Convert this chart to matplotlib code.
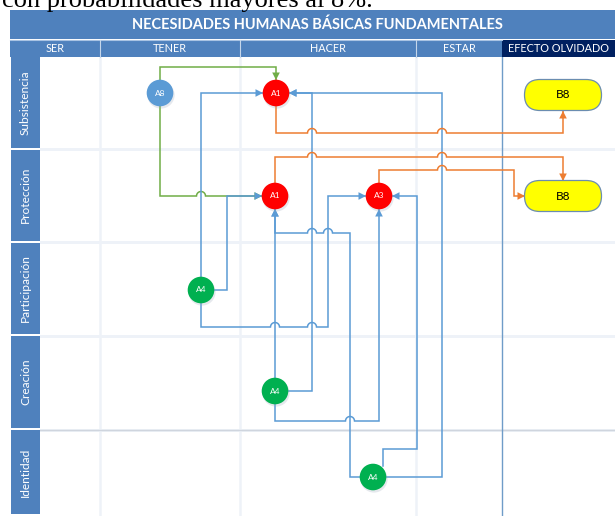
import numpy as np
import matplotlib
matplotlib.use('Agg')
import matplotlib.pyplot as plt
from matplotlib.patches import Rectangle, Circle, FancyBboxPatch, Polygon

plt.rcParams['font.family'] = ['Lato', 'DejaVu Sans']

W, H = 615, 516
BLUE = '#4f81bd'
NAVY = '#002060'
LINE_BLUE = '#5b9bd5'
ORANGE = '#ed7d31'
GREEN = '#70ad47'

# table layout
columns = ['SER', 'TENER', 'HACER', 'ESTAR', 'EFECTO OLVIDADO']
col_edges = [10, 100, 240, 416, 502, 615]
rows = ['Subsistencia', 'Protección', 'Participación', 'Creación', 'Identidad']
row_edges = [57, 149.5, 242.5, 336, 430, 516]

# nodes
node_labels = ['A8', 'A1', 'A1', 'A3', 'A4', 'A4', 'A4']
node_x = [160, 276, 275, 379, 201, 275, 373]
node_y = [93, 93, 196, 196, 290, 391, 477]
node_colors = ['#5b9bd5', '#ff0000', '#ff0000', '#ff0000', '#00b050', '#00b050', '#00b050']
effect_labels = ['B8', 'B8']
effect_x = [563, 563]
effect_y = [95, 196]

# connectors (waypoints, arrow at the end)
green_links = [
    [(160, 80), (160, 67), (276, 67), (276, 80)],
    [(160, 106), (160, 196), (262, 196)],
]
blue_links = [
    [(201, 277), (201, 93), (263, 93)],
    [(214, 290), (227, 290), (227, 196), (262, 196)],
    [(201, 303), (201, 327), (328, 327), (328, 196), (366, 196)],
    [(288, 391), (312, 391), (312, 93), (289, 93)],
    [(386, 477), (442, 477), (442, 93), (289, 93)],
    [(275, 378), (275, 209)],
    [(360, 477), (350, 477), (350, 233), (275, 233), (275, 209)],
    [(275, 404), (275, 421), (379, 421), (379, 209)],
    [(383, 466), (383, 449), (417, 449), (417, 196), (392, 196)],
]
orange_links = [
    [(276, 106), (276, 133), (563, 133), (563, 111)],
    [(275, 183), (275, 157), (563, 157), (563, 181)],
    [(379, 183), (379, 170), (514, 170), (514, 196), (525, 196)],
]

fig = plt.figure(figsize=(6.15, 5.16), dpi=100)
ax = fig.add_axes([0, 0, 1, 1])
ax.set_xlim(0, W)
ax.set_ylim(H, 0)
ax.axis('off')

# cut-off line of text above the chart
ax.text(2, 6.5, 'con probabilidades mayores al 8%.', family='Liberation Serif',
        fontsize=19, va='baseline', ha='left', color='black')

# title band and header row
ax.add_patch(Rectangle((10, 10), W - 10, 29, color=BLUE, lw=0))
ax.text((10 + W) / 2 + 5, 24.5, 'NECESIDADES HUMANAS BÁSICAS FUNDAMENTALES',
        color='white', fontsize=10.5, fontweight='bold', ha='center', va='center')
ax.add_patch(Rectangle((10, 40), W - 10, 16.5, color=BLUE, lw=0))
ax.add_patch(Rectangle((col_edges[4], 40), W - col_edges[4], 16.5, color=NAVY, lw=0))
ax.plot([10, col_edges[4]], [39.5, 39.5], color='#a9c3e3', lw=0.8)
for x in col_edges[1:4]:
    ax.plot([x, x], [40, 56.5], color='#c5d6ea', lw=0.8)
for i, name in enumerate(columns):
    ax.text((col_edges[i] + col_edges[i + 1]) / 2, 48.5, name, color='white',
            fontsize=7.8, ha='center', va='center')

# body grid
for y in row_edges[1:-1]:
    ax.add_patch(Rectangle((40, y - 1.5), W - 40, 3, color='#eef2f8', lw=0, zorder=0))
ax.plot([40, W], [row_edges[4] - 0.5, row_edges[4] - 0.5], color='#cfd5de', lw=1, zorder=0.5)
for x in col_edges[1:4]:
    ax.plot([x, x], [57, H], color='#eef2f8', lw=1.8, zorder=0)
ax.plot([col_edges[4], col_edges[4]], [56.5, H], color='#6f9cc8', lw=1, zorder=0.6)

# row labels
for i, name in enumerate(rows):
    y0, y1 = row_edges[i], row_edges[i + 1]
    ax.add_patch(Rectangle((11, y0), 29, y1 - y0 - 2, color=BLUE, lw=0))
    ax.text(25.5, (y0 + y1) / 2 - 1, name, color='white', fontsize=8.6,
            rotation=90, ha='center', va='center')

# connectors with line hops
all_links = [(GREEN, l) for l in green_links] + [(LINE_BLUE, l) for l in blue_links] + \
            [(ORANGE, l) for l in orange_links]
verticals = []
for _, pts in all_links:
    for (x0, y0), (x1, y1) in zip(pts[:-1], pts[1:]):
        if x0 == x1:
            verticals.append((x0, min(y0, y1), max(y0, y1)))

r = 4.5


def hop_path(pts):
    xs, ys = [pts[0][0]], [pts[0][1]]
    for (x0, y0), (x1, y1) in zip(pts[:-1], pts[1:]):
        if y0 == y1 and x0 != x1:
            lo, hi = sorted((x0, x1))
            cross = sorted({vx for vx, va, vb in verticals
                            if lo + 5 < vx < hi - 5 and va + 1 < y0 < vb - 1},
                           reverse=x1 < x0)
            t = np.linspace(np.pi, 0, 14) if x1 > x0 else np.linspace(0, np.pi, 14)
            for cx in cross:
                xs += list(cx + r * np.cos(t))
                ys += list(y0 - r * np.sin(t))
        xs.append(x1)
        ys.append(y1)
    return xs, ys


for color, pts in all_links:
    xs, ys = hop_path(pts)
    ax.plot(xs, ys, color=color, lw=1.1, solid_joinstyle='miter', zorder=2)
    (xa, ya), (xb, yb) = pts[-2], pts[-1]
    d = np.array([xb - xa, yb - ya], float)
    d /= np.hypot(*d)
    p = np.array([-d[1], d[0]])
    tip = np.array([xb, yb])
    base = tip - 7.5 * d
    ax.add_patch(Polygon([tip, base + 3.8 * p, base - 3.8 * p], closed=True,
                         color=color, lw=0, zorder=2.5))

# nodes
for lab, x, y, c in zip(node_labels, node_x, node_y, node_colors):
    ax.add_patch(Circle((x + 1, y + 2), 13.6, color='#9aa7b8', alpha=0.25, lw=0, zorder=3))
    ax.add_patch(Circle((x, y), 13.3, color=c, lw=0, zorder=3.5))
    ax.text(x, y, lab, color='white', fontsize=6, ha='center', va='center', zorder=4)

for lab, x, y in zip(effect_labels, effect_x, effect_y):
    ax.add_patch(FancyBboxPatch((x - 38.5, y - 15.5), 77, 31,
                                boxstyle='round,pad=0,rounding_size=15.5',
                                facecolor='#ffff00', edgecolor='#6b8db0', lw=0.9,
                                zorder=3.5))
    ax.text(x, y, lab, color='black', fontsize=8.5, ha='center', va='center', zorder=4)

fig.savefig('out.png', dpi=100, facecolor='white')
